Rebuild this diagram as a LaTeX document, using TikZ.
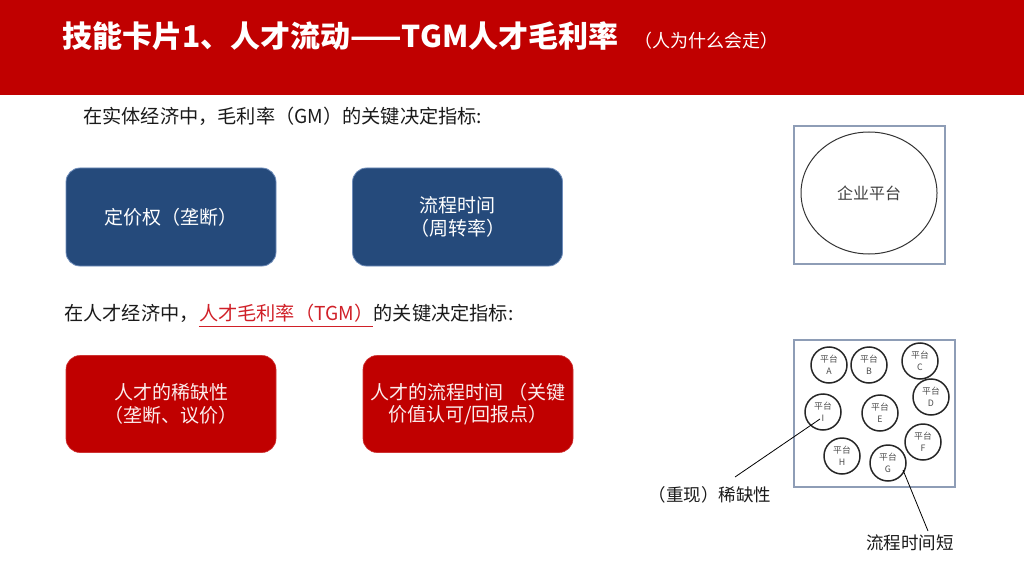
\documentclass[tikz,border=0pt]{standalone}
\usepackage{fontspec}
\setmainfont{Noto Sans CJK SC}
\usetikzlibrary{shapes.geometric}
\definecolor{hdr}{HTML}{C00000}
\definecolor{navy}{HTML}{254A7B}
\definecolor{navyedge}{HTML}{6F8DBA}
\definecolor{framec}{HTML}{8E9DB6}
\definecolor{txt}{HTML}{1A1A1A}
\definecolor{redtxt}{HTML}{D02028}
\definecolor{pinkw}{HTML}{FBEDED}
\begin{document}
\begin{tikzpicture}[x=1pt,y=-1pt,
  body/.style={anchor=west, text=txt, inner sep=0pt, font=\fontsize{19.2}{22}\selectfont},
  bluebox/.style={fill=navy, draw=navyedge, line width=0.8pt, rounded corners=14pt,
     minimum width=210pt, minimum height=98pt, text=white, align=center,
     font=\fontsize{19}{23}\selectfont},
  redbox/.style={fill=hdr, draw=hdr!80!white, line width=0.6pt, rounded corners=14pt,
     minimum width=210pt, minimum height=97pt, text=pinkw, align=center,
     font=\fontsize{19}{22.5}\selectfont},
  frame/.style={draw=framec, line width=1.2pt},
  plat/.style={circle, draw=black!85, line width=1.5pt, minimum size=36pt, inner sep=0pt,
     align=center, text=black!70, font=\fontsize{8.8}{11.5}\selectfont},
  lab/.style={text=txt, inner sep=0pt, font=\fontsize{17.5}{20}\selectfont},
  lead/.style={draw=black, line width=0.8pt}
]
\useasboundingbox (0,0) rectangle (1024,580);
\fill[hdr] (0,0) rectangle (1024,95);

% title
\node[anchor=west, text=white, inner sep=0pt, font=\bfseries\fontsize{30}{32}\selectfont] (title) at (62,36) {技能卡片1、人才流动——TGM人才毛利率};
\node[anchor=base west, text=white, inner sep=0pt, font=\fontsize{18}{20}\selectfont] (sub) at ([xshift=16pt]title.base east) {（人为什么会走）};

% section 1
\node[body] (l1) at (83,116) {在实体经济中，毛利率（GM）的关键决定指标:};
\node[bluebox] (b1) at (171,217) {定价权（垄断）};
\node[bluebox] (b2) at (457.5,217) {\rule{0pt}{6pt}流程时间\\（周转率）};

% section 2
\node[body] (l2a) at (64,313) {在人才经济中，};
\node[body, anchor=base west, text=redtxt] (l2b) at (l2a.base east) {人才毛利率（TGM）\hspace{2pt}};
\node[body, anchor=base west] (l2c) at (l2b.base east) {的关键决定指标:};
\draw[redtxt, line width=0.9pt] ([yshift=-4pt]l2b.south west) -- ([yshift=-4pt]l2b.south east);

\node[redbox] (r1) at (171,404) {人才的稀缺性\\（垄断、议价）};
\node[redbox] (r2) at (468,404) {人才的流程时间 （关键\\价值认可/回报点）};

% right top: enterprise platform
\node[frame, minimum width=151pt, minimum height=138pt, inner sep=0pt] (f1) at (869.5,195) {};
\node[ellipse, draw=black!80, line width=1pt, minimum width=136pt, minimum height=122pt, inner sep=0pt,
   text=black!75, font=\fontsize{16}{19}\selectfont] (ent) at (869,193) {企业平台};

% right bottom: platforms
\node[frame, minimum width=161pt, minimum height=147pt, inner sep=0pt] (f2) at (874.5,413.5) {};
\node[plat] (pA) at (829,365) {平台\\A};
\node[plat] (pB) at (869,365) {平台\\B};
\node[plat] (pC) at (920,361) {平台\\C};
\node[plat] (pD) at (931,397) {平台\\D};
\node[plat] (pI) at (823,412) {平台\\I};
\node[plat] (pE) at (880,413) {平台\\E};
\node[plat] (pF) at (923,442) {平台\\F};
\node[plat] (pH) at (842,456) {平台\\H};
\node[plat] (pG) at (888,463) {平台\\G};

% leaders and labels
\node[lab] (lbS) at (710,495) {（重现）稀缺性};
\node[lab] (lbT) at (910,543) {流程时间短};
\coordinate (iIn) at (820,419);
\coordinate (sEnd) at (735,477);
\coordinate (gIn) at (903,470);
\coordinate (tEnd) at (928,531);
\draw[lead] (iIn) -- (sEnd);
\draw[lead] (gIn) -- (tEnd);
\end{tikzpicture}
\end{document}
